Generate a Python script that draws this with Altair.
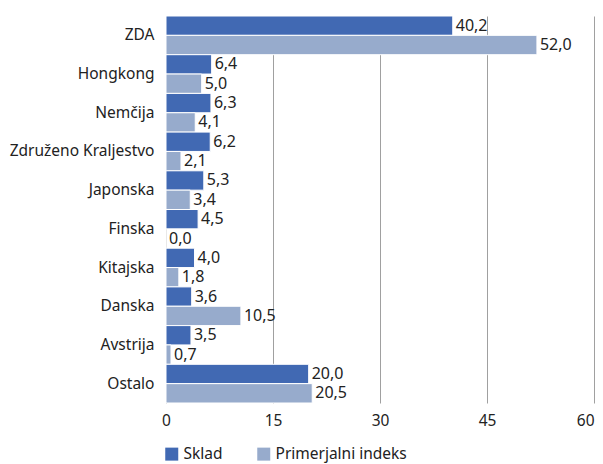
import altair as alt
import pandas as pd

categories = ["ZDA", "Hongkong", "Nemčija", "Združeno Kraljestvo", "Japonska",
              "Finska", "Kitajska", "Danska", "Avstrija", "Ostalo"]
sklad = [40.2, 6.4, 6.3, 6.2, 5.3, 4.5, 4.0, 3.6, 3.5, 20.0]
indeks = [52.0, 5.0, 4.1, 2.1, 3.4, 0.0, 1.8, 10.5, 0.7, 20.5]
series = ["Sklad", "Primerjalni indeks"]
colors = ["#4169B3", "#97ABCC"]
x_ticks = [0, 15, 30, 45, 60]

rows = []
for c, a, b in zip(categories, sklad, indeks):
    rows.append({"kat": c, "serija": series[0], "v": a, "lab": f"{a:.1f}".replace(".", ",")})
    rows.append({"kat": c, "serija": series[1], "v": b, "lab": f"{b:.1f}".replace(".", ",")})
df = pd.DataFrame(rows)

FONT = "Noto Sans"
FS = 15.5

y_enc = alt.Y("kat:N", sort=categories, title=None,
              scale=alt.Scale(paddingInner=0, paddingOuter=0),
              axis=alt.Axis(domain=False, ticks=False, labelPadding=12,
                            labelFontSize=FS, labelColor="#222222", labelFont=FONT,
                            labelLimit=200))
yoff = alt.YOffset("serija:N", sort=series, scale=alt.Scale(paddingInner=0, paddingOuter=0))
x_enc = alt.X("v:Q", title=None,
              scale=alt.Scale(domain=[0, 60], nice=False),
              axis=alt.Axis(values=x_ticks, domain=False, ticks=False,
                            grid=True, gridColor="#A0A0A0", gridWidth=1,
                            labelFlush=False,
                            labelAlign=alt.condition("datum.value == 60",
                                                     alt.value("right"), alt.value("center")),
                            labelFontSize=FS, labelColor="#222222", labelFont=FONT,
                            labelPadding=10))

base = alt.Chart(df)

bars = base.mark_bar(stroke="white", strokeWidth=1).encode(
    x=x_enc,
    y=y_enc,
    yOffset=yoff,
    color=alt.Color("serija:N", sort=series,
                    scale=alt.Scale(domain=series, range=colors),
                    legend=alt.Legend(title=None, orient="none", legendX=-2, legendY=430,
                                      direction="horizontal", symbolType="square",
                                      symbolSize=169, symbolStrokeWidth=0,
                                      labelFontSize=FS, labelFont=FONT, labelColor="#222222",
                                      columnPadding=33, labelOffset=4)),
)

text = base.mark_text(align="left", baseline="middle", dx=3, fontSize=16,
                      font=FONT, color="#222222").encode(
    x="v:Q",
    y=alt.Y("kat:N", sort=categories),
    yOffset=alt.YOffset("serija:N", sort=series),
    text="lab:N",
)

chart = (bars + text).properties(
    width=428, height=387,
    autosize=alt.AutoSizeParams(type="none"),
    padding={"left": 158, "top": 8, "right": 1, "bottom": 62},
).configure_view(stroke=None)

chart.save("out.html", embed_options={"renderer": "svg", "actions": False})
